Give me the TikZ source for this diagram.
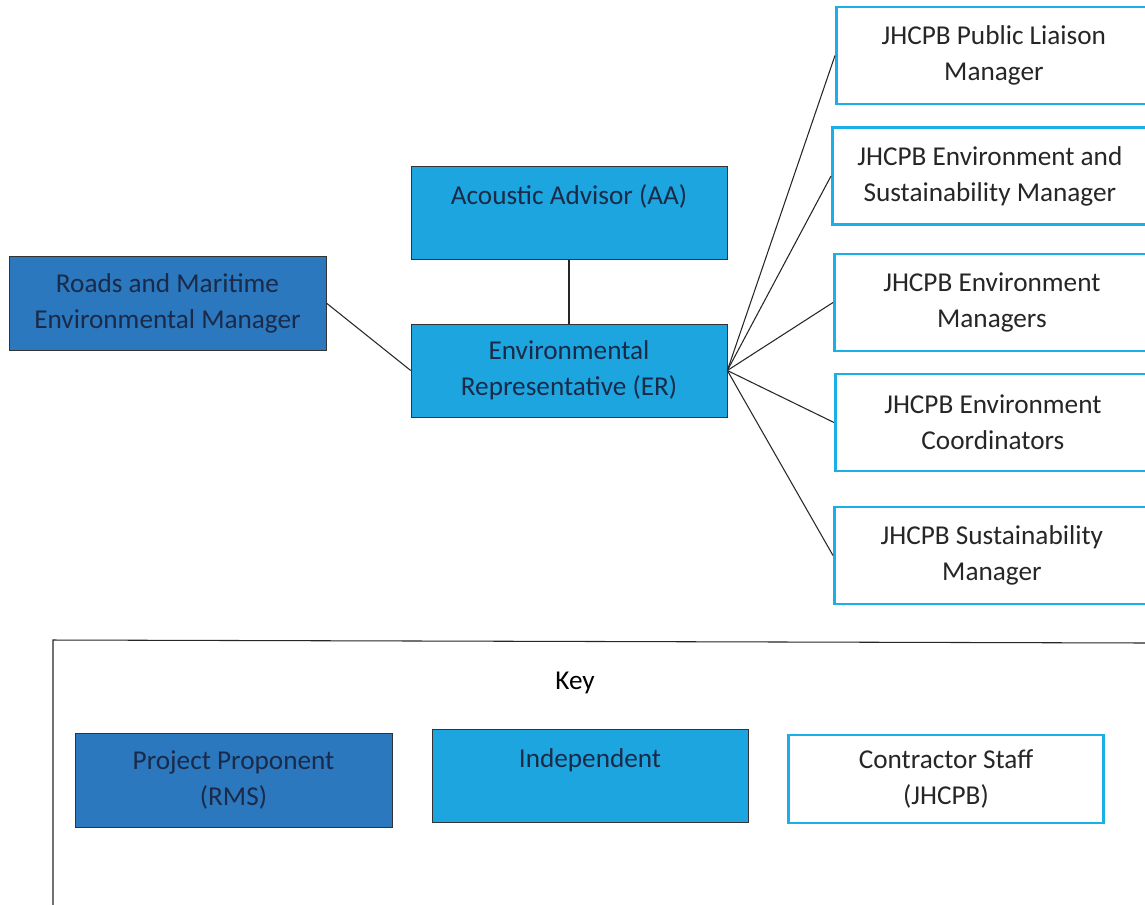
\documentclass[tikz,border=0pt]{standalone}
\usepackage{fontspec}
\setmainfont{Carlito}
\usetikzlibrary{positioning}

\definecolor{rmsblue}{HTML}{2B78BE}
\definecolor{indblue}{HTML}{1DA5DF}
\definecolor{jhline}{HTML}{1BAFE8}
\definecolor{navytext}{HTML}{1A2A48}

\begin{document}
\begin{tikzpicture}[x=0.02cm,y=-0.02cm,
    font=\fontsize{15.5}{20.5}\selectfont,
    rmsbox/.style={draw=black!80,fill=rmsblue,text=navytext,align=center,
      minimum width=6.34cm,minimum height=1.88cm,inner sep=0pt},
    indbox/.style={draw=black!80,fill=indblue,text=navytext,align=center,
      minimum width=6.32cm,minimum height=1.86cm,inner sep=0pt},
    jhbox/.style={draw=jhline,line width=1.6pt,fill=white,text=black!85,align=center,
      minimum width=6.3cm,minimum height=1.94cm,inner sep=0pt},
    link/.style={draw=black!85,line width=0.6pt}]
  \clip (0,0) rectangle (1145,904);
  \fill[white] (0,0) rectangle (1145,904);

  % top chart
  \node[rmsbox] (rm) at (167.5,303) {Roads and Maritime\\Environmental Manager};
  \node[indbox] (aa) at (569,213) {Acoustic Advisor (AA)\\~};
  \node[indbox] (er) at (569,370.5) {Environmental\\Representative (ER)};

  \node[jhbox,anchor=west] (plm) at (835,55.5) {JHCPB Public Liaison\\Manager};
  \node[jhbox,anchor=west] (esm) at (831,176) {JHCPB Environment and\\Sustainability Manager};
  \node[jhbox,anchor=west] (em) at (833,302.5) {JHCPB Environment\\Managers};
  \node[jhbox,anchor=west] (ec) at (834,422.5) {JHCPB Environment\\Coordinators};
  \node[jhbox,anchor=west] (sm) at (833,555.5) {JHCPB Sustainability\\Manager};

  \draw[link] (rm.east) -- (er.west);
  \draw[link] (aa.south) -- (er.north);
  \draw[link] (er.east) -- (plm.west);
  \draw[link] (er.east) -- (esm.west);
  \draw[link] (er.east) -- (em.west);
  \draw[link] (er.east) -- (ec.west);
  \draw[link] (er.east) -- (sm.west);

  % key
  \draw[black!85,line width=0.6pt] (53,910) -- (53,640) -- (1150,643);
  \node (key) at (575,683) {Key};
  \node[rmsbox] (pp) at (233.5,780) {Project Proponent\\(RMS)};
  \node[indbox] (ind) at (590,776) {Independent\\~};
  \node[jhbox,minimum width=6.3cm,minimum height=1.76cm] (cs) at (946,779) {Contractor Staff\\(JHCPB)};
\end{tikzpicture}
\end{document}
